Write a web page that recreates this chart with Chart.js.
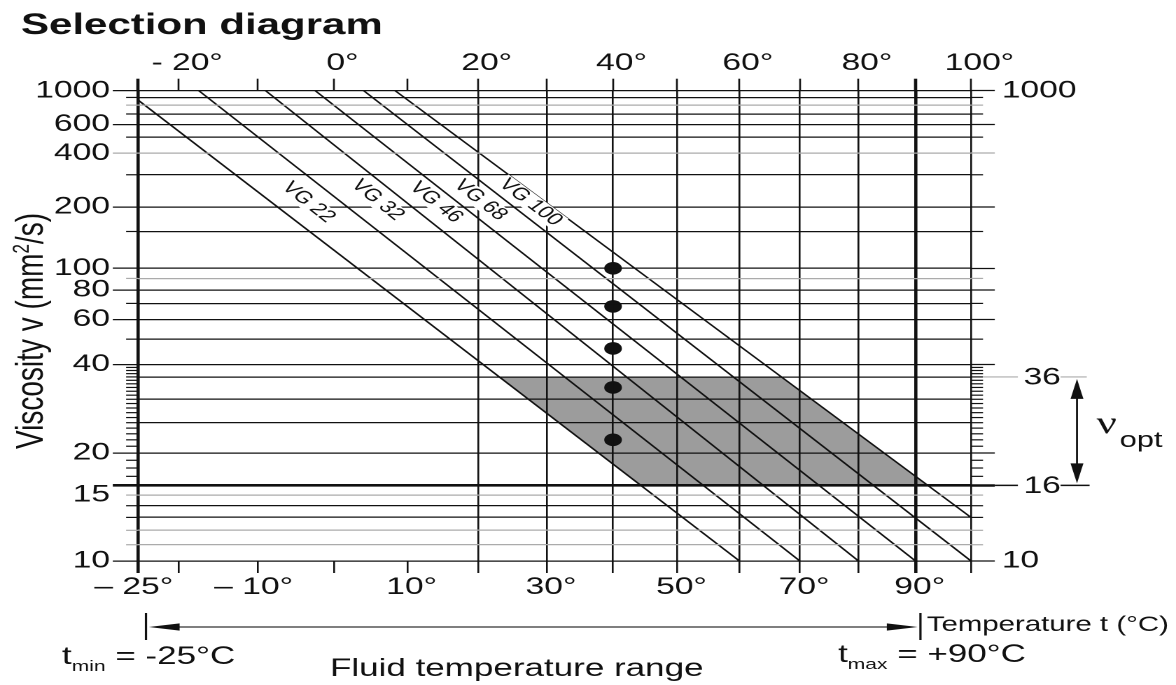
<!DOCTYPE html>
<html><head><meta charset="utf-8">
<script src="https://cdn.jsdelivr.net/npm/chart.js@4/dist/chart.umd.min.js"></script>
<style>
html,body{margin:0;padding:0;background:#fff;overflow:hidden;}
#wrap{width:840px;height:685px;transform:scaleX(1.4);transform-origin:0 0;}
canvas{display:block;}
</style></head><body>
<div id="wrap"><canvas id="c" width="840" height="685"></canvas></div>
<script>
// ---------- data ----------
const tempTicks   = [-25,-20,-10,0,10,20,30,40,50,60,70,80,90,100];
const bottomLabels = [-25,-10,10,30,50,70,90];
const topLabels    = [-20,0,20,40,60,80,100];
const gridTemps    = [20,30,40,50,60,70,80,90,100];
const thickTemps   = [-25,90];

const viscLines = [1000,900,800,700,600,500,400,300,200,150,100,90,80,70,60,50,40,36,30,25,20,16,15,14,13,12,11,10];
const viscGray  = [800,400,90,15,12,11];
const viscLongLeft  = [1000,600,400,200,100,80,60,40,20,16,10];
const viscLongRight = [1000,600,400,200,100,80,60,40,20,16,10];
const viscLeftLabels  = [1000,600,400,200,100,80,60,40,20,15,10];
const viscRightLabels = [1000,10];
const viscMinor = [17,18,19,21,22,23,24,26,27,28,29,31,32,33,34,35,37,38,39];

const vgNames      = ['VG 22','VG 32','VG 46','VG 68','VG 100'];
const vgLineStartT = [-25,-17.5,-9,-2.5,4,8.3];
const vgLineStartV = [865,1000,1000,1000,1000,1000];
const vgLineEndT   = [60,70,80,90,100,100];
const vgLineEndV   = [10,10,10,10,10,13];
const vgLabelT     = [-3.4,5.9,14,20.3,27.6];
const vgLabelV     = [212,218,212,218,212];

const dotTemp = 40;
const dotVisc = [100,68,46,33,22];

const shadeT = [23.0,66.9,92.2,44.2];
const shadeV = [36,36,16,16];

const optRange = [16,36];
const tRange   = [-25,90];

// ---------- scale transforms (Walther chart: log T, log log v) ----------
const U = t => Math.log10(t + 273.15);
const W = v => Math.log10(Math.log10(v + 0.7));

const FONT = "'Liberation Sans', Arial, Helvetica, sans-serif";
const INK = '#111111';
const GRAY = '#ababab';

const degBottom = t => (t < 0 ? '\u2013 ' + Math.abs(t) + '\u00b0\u2002' : String(t) + '\u00b0');
const degTop = t => (t < 0 ? '- ' + Math.abs(t) : String(t)) + '\u00b0';

const tickFont = {family: FONT, size: 24};

// ---------- datasets ----------
const datasets = [];
datasets.push({
  type: 'scatter', label: 'ISO VG at 40°C',
  data: dotVisc.map(v => ({x: U(dotTemp), y: W(v)})),
  pointRadius: 6.3, pointBackgroundColor: INK, pointBorderWidth: 0, order: 0
});
for (let i = 0; i < vgLineStartT.length; i++) {
  datasets.push({
    type: 'line', label: 'line ' + (i + 1),
    data: [{x: U(vgLineStartT[i]), y: W(vgLineStartV[i])}, {x: U(vgLineEndT[i]), y: W(vgLineEndV[i])}],
    borderColor: INK, borderWidth: 1.4, pointRadius: 0, fill: false, tension: 0, order: 1
  });
}
datasets.push({
  type: 'line', label: 'optimum',
  data: shadeT.map((t, i) => ({x: U(t), y: W(shadeV[i])})),
  borderWidth: 0, borderColor: 'rgba(0,0,0,0)', pointRadius: 0,
  fill: 'shape', backgroundColor: '#9c9c9c', order: 2
});

// ---------- extra drawing ----------
function arrowHead(ctx, tipX, tipY, dx, dy, len, half) {
  const bx = tipX - dx * len, by = tipY - dy * len;
  const px = -dy, py = dx;
  ctx.beginPath();
  ctx.moveTo(tipX, tipY);
  ctx.lineTo(bx + px * half, by + py * half);
  ctx.lineTo(bx - px * half, by - py * half);
  ctx.closePath();
  ctx.fill();
}

const extras = {
  id: 'extras',
  afterDraw(chart) {
    const ctx = chart.ctx, a = chart.chartArea;
    const xs = chart.scales.x, ys = chart.scales.y;
    const X = t => xs.getPixelForValue(U(t));
    const Y = v => ys.getPixelForValue(W(v));
    ctx.save();

    // short tick stubs
    ctx.lineWidth = 1.2;
    viscLines.concat(viscMinor).forEach(v => {
      const yy = Y(v);
      ctx.strokeStyle = viscGray.includes(v) ? GRAY : INK;
      if (!viscLongLeft.includes(v)) {
        ctx.beginPath(); ctx.moveTo(a.left - 8.5, yy); ctx.lineTo(a.left, yy); ctx.stroke();
      }
      if (!viscLongRight.includes(v)) {
        ctx.beginPath(); ctx.moveTo(a.right, yy); ctx.lineTo(a.right + 8.6, yy); ctx.stroke();
      }
    });

    // VG labels along the lines
    ctx.font = '17px ' + FONT;
    vgNames.forEach((name, i) => {
      const px = X(vgLabelT[i]), py = Y(vgLabelV[i]);
      const x0 = X(vgLineStartT[i + 1]), y0 = Y(vgLineStartV[i + 1]);
      const x1 = X(vgLineEndT[i + 1]), y1 = Y(vgLineEndV[i + 1]);
      const ang = Math.atan2(y1 - y0, x1 - x0);
      ctx.save();
      ctx.translate(px, py); ctx.rotate(ang);
      const w = ctx.measureText(name).width;
      ctx.fillStyle = '#fff';
      ctx.fillRect(-w / 2 - 2, -8, w + 4, 16);
      ctx.fillStyle = INK; ctx.textAlign = 'center'; ctx.textBaseline = 'middle';
      ctx.fillText(name, 0, 0);
      ctx.restore();
    });

    // title
    ctx.fillStyle = INK;
    ctx.textAlign = 'left'; ctx.textBaseline = 'alphabetic';
    ctx.font = 'bold 30px ' + FONT;
    ctx.fillText('Selection diagram', 15, 34);

    // y axis title
    ctx.save();
    ctx.translate(23, 331); ctx.rotate(-Math.PI / 2);
    ctx.font = '28px ' + FONT; ctx.textAlign = 'center'; ctx.textBaseline = 'middle';
    const t1 = 'Viscosity v (mm', t2 = '2', t3 = '/s)';
    const w1 = ctx.measureText(t1).width;
    ctx.font = '17px ' + FONT; const w2 = ctx.measureText(t2).width;
    ctx.font = '28px ' + FONT; const w3 = ctx.measureText(t3).width;
    let sx = -(w1 + w2 + w3) / 2;
    ctx.textAlign = 'left';
    ctx.fillText(t1, sx, 0); sx += w1;
    ctx.font = '17px ' + FONT; ctx.fillText(t2, sx, -7); sx += w2;
    ctx.font = '28px ' + FONT; ctx.fillText(t3, sx, 0);
    ctx.restore();

    // optimum viscosity annotation on the right
    const y36 = Y(optRange[1]), y16 = Y(optRange[0]);
    const labX = a.right + 37.5, labR = labX + 26.5, arX = a.right + 75.7;
    ctx.lineWidth = 1.2;
    ctx.strokeStyle = GRAY;
    ctx.beginPath(); ctx.moveTo(a.right + 8.6, y36); ctx.lineTo(labX - 4, y36);
    ctx.moveTo(labR, y36); ctx.lineTo(arX + 7, y36); ctx.stroke();
    ctx.strokeStyle = INK; ctx.lineWidth = 1.5;
    ctx.beginPath(); ctx.moveTo(a.right + 17, y16); ctx.lineTo(labX - 4, y16);
    ctx.moveTo(labR, y16); ctx.lineTo(arX + 9, y16); ctx.stroke();
    ctx.font = '24px ' + FONT; ctx.textAlign = 'left'; ctx.textBaseline = 'middle';
    ctx.fillStyle = INK;
    ctx.fillText(String(optRange[1]), labX, y36 + 1);
    ctx.fillText(String(optRange[0]), labX, y16 + 1);
    // double arrow
    ctx.lineWidth = 1.4;
    ctx.beginPath(); ctx.moveTo(arX, y36 + 10); ctx.lineTo(arX, y16 - 10); ctx.stroke();
    arrowHead(ctx, arX, y36 + 2, 0, -1, 20, 4.6);
    arrowHead(ctx, arX, y16 - 2, 0, 1, 20, 4.6);
    // nu opt
    ctx.font = '32px "Liberation Serif", "DejaVu Serif", serif';
    ctx.textBaseline = 'alphabetic';
    ctx.fillText('\u03bd', arX + 14, (y36 + y16) / 2 + 2);
    ctx.font = '22px ' + FONT;
    ctx.fillText('opt', arX + 30.5, (y36 + y16) / 2 + 16);

    // bottom temperature range arrow
    const xl = X(tRange[0]) + 5.7, xr = X(tRange[1]) + 3.5;
    const ya = 627, yb0 = 613, yb1 = 640;
    ctx.strokeStyle = INK; ctx.lineWidth = 1.6;
    ctx.beginPath(); ctx.moveTo(xl, yb0); ctx.lineTo(xl, yb1); ctx.moveTo(xr, yb0); ctx.lineTo(xr, yb1); ctx.stroke();
    ctx.lineWidth = 1.2; ctx.strokeStyle = '#333';
    ctx.beginPath(); ctx.moveTo(xl + 10, ya); ctx.lineTo(xr - 10, ya); ctx.stroke();
    ctx.fillStyle = INK;
    arrowHead(ctx, xl + 2, ya, -1, 0, 22, 3.6);
    arrowHead(ctx, xr - 2, ya, 1, 0, 22, 3.6);

    ctx.textBaseline = 'middle'; ctx.textAlign = 'left';
    ctx.font = '21px ' + FONT;
    ctx.fillText('Temperature t (\u00b0C)', xr + 4.5, ya - 2);

    function subText(x, y, main, sub, rest) {
      ctx.font = '25px ' + FONT; ctx.fillText(main, x, y);
      let w = ctx.measureText(main).width;
      ctx.font = '15px ' + FONT; ctx.fillText(sub, x + w, y + 10);
      w += ctx.measureText(sub).width;
      ctx.font = '25px ' + FONT; ctx.fillText(rest, x + w, y);
    }
    subText(44.3, 657, 't', 'min', ' = -25\u00b0C');
    subText(598.6, 655, 't', 'max', ' = +90\u00b0C');
    ctx.font = '25px ' + FONT;
    ctx.fillText('Fluid temperature range', 235.7, 669);

    ctx.restore();
  }
};

// ---------- chart ----------
const xTickOpts = (labels, fmt) => ({
  autoSkip: false, maxRotation: 0, minRotation: 0, font: tickFont, color: INK,
  callback: (v, i) => labels.includes(tempTicks[i]) ? fmt(tempTicks[i]) : ''
});
const setTempTicks = s => { s.ticks = tempTicks.map(t => ({value: U(t)})); };
const setViscTicks = s => { s.ticks = viscLines.map(v => ({value: W(v)})); };

new Chart(document.getElementById('c'), {
  type: 'line',
  data: {datasets},
  options: {
    responsive: false, animation: false, devicePixelRatio: 2,
    layout: {padding: 0},
    plugins: {legend: {display: false}, tooltip: {enabled: false}, title: {display: false}},
    scales: {
      x: {
        type: 'linear', position: 'bottom', min: U(-25), max: U(100),
        afterBuildTicks: setTempTicks,
        afterFit: s => { s.height = 685 - 561; },
        ticks: Object.assign(xTickOpts(bottomLabels, degBottom), {padding: 0, labelOffset: 3}),
        grid: {
          z: 1, tickLength: 12, drawTicks: true,
          color: c => { const t = tempTicks[c.index]; return (gridTemps.includes(t) || t === -25) ? INK : 'rgba(0,0,0,0)'; },
          tickColor: INK,
          lineWidth: c => thickTemps.includes(tempTicks[c.index]) ? 2.3 : 1.3,
          tickWidth: c => thickTemps.includes(tempTicks[c.index]) ? 2.3 : 1.3
        },
        border: {display: false}
      },
      x2: {
        type: 'linear', position: 'top', min: U(-25), max: U(100),
        afterBuildTicks: setTempTicks,
        afterFit: s => { s.height = 90.7; },
        ticks: Object.assign(xTickOpts(topLabels, degTop), {padding: 1, labelOffset: 6}),
        grid: {
          z: 1, drawOnChartArea: false, tickLength: 12, tickColor: INK,
          tickWidth: c => thickTemps.includes(tempTicks[c.index]) ? 2.3 : 1.3
        },
        border: {display: false}
      },
      y: {
        type: 'linear', position: 'left', min: W(10), max: W(1000),
        afterBuildTicks: setViscTicks,
        afterFit: s => { s.width = 98.57; },
        ticks: {
          autoSkip: false, font: tickFont, color: INK, padding: 2,
          callback: (v, i) => viscLeftLabels.includes(viscLines[i]) ? String(viscLines[i]) : ''
        },
        grid: {
          z: 1, tickLength: 18,
          color: c => viscGray.includes(viscLines[c.index]) ? GRAY : INK,
          tickColor: c => viscLongLeft.includes(viscLines[c.index]) ? (viscGray.includes(viscLines[c.index]) ? GRAY : INK) : 'rgba(0,0,0,0)',
          lineWidth: c => viscLines[c.index] === 16 ? 2.6 : 1.3,
          tickWidth: c => viscLines[c.index] === 16 ? 2.6 : 1.3
        },
        border: {display: false}
      },
      y2: {
        type: 'linear', position: 'right', min: W(10), max: W(1000),
        afterBuildTicks: setViscTicks,
        afterFit: s => { s.width = 840 - 693.57; },
        ticks: {
          autoSkip: false, font: tickFont, color: INK, padding: 5,
          callback: (v, i) => viscRightLabels.includes(viscLines[i]) ? String(viscLines[i]) : ''
        },
        grid: {
          z: 1, drawOnChartArea: false, tickLength: 17,
          tickColor: c => viscLongRight.includes(viscLines[c.index]) ? (viscGray.includes(viscLines[c.index]) ? GRAY : INK) : 'rgba(0,0,0,0)',
          tickWidth: c => viscLines[c.index] === 16 ? 2.6 : 1.3
        },
        border: {display: false}
      }
    }
  },
  plugins: [extras]
});
</script>
</body></html>
